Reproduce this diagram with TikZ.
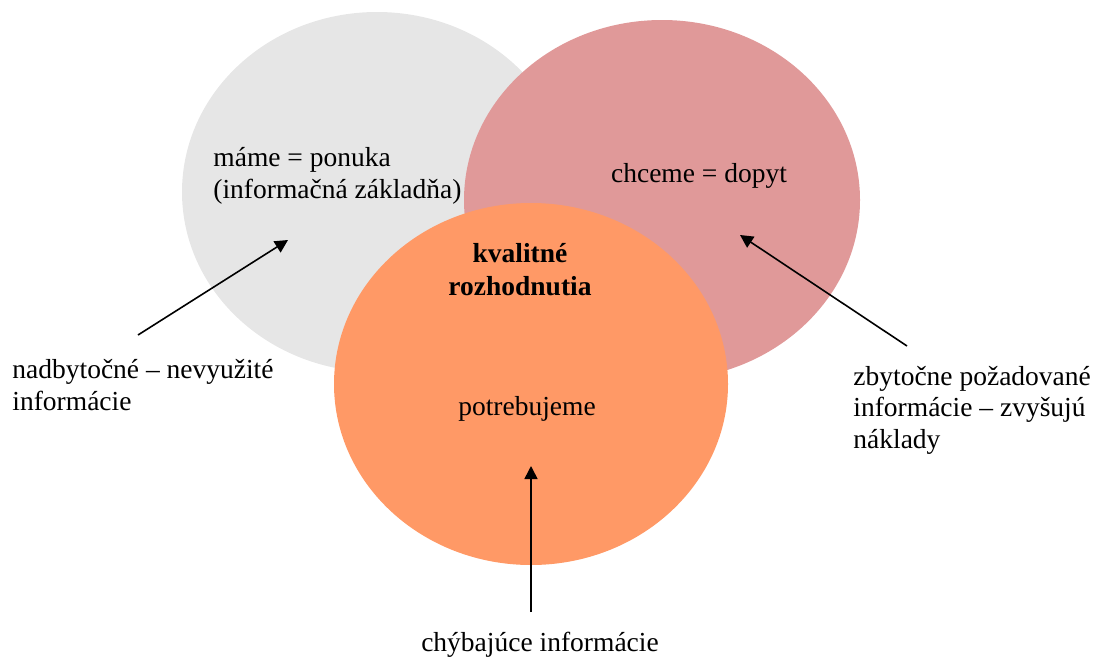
\documentclass[tikz,border=0pt]{standalone}
\usepackage{fontspec}
\setmainfont{Liberation Serif}
\usepackage{tikz}
\usetikzlibrary{calc, shapes, arrows.meta}

\definecolor{ponuka}{RGB}{230,230,230}
\definecolor{dopyt}{RGB}{224,153,153}
\definecolor{potreba}{RGB}{255,153,102}

\begin{document}
\begin{tikzpicture}[x=0.5pt,y=-0.5pt]
\tikzstyle{set}=[ellipse,inner sep=0pt,minimum width=197pt,minimum height=181pt]
\tikzstyle{txt}=[inner sep=0pt,font=\fontsize{13.75}{15.75}\selectfont,align=left,anchor=base west]
\tikzstyle{arr}=[-{Triangle[length=6.5pt,width=6.5pt]},line width=0.8pt]
\useasboundingbox (0,0) rectangle (1101,659);
% the three sets
\node[set,fill=ponuka,minimum width=195pt,minimum height=180pt] (S_m) at (377,192) {};
\node[set,fill=dopyt,minimum width=198pt,minimum height=180pt] (S_ch) at (662,200) {};
\node[set,fill=potreba] (S_p) at (531,384) {};
% texts (base = last line)
\node[txt] (T_m) at (213,198) {máme = ponuka\\(informačná základňa)};
\node[txt,anchor=base] (T_ch) at (699,182) {chceme = dopyt};
\node[txt,anchor=base,align=center,font=\fontsize{13.75}{16.5}\selectfont\bfseries] (T_kr) at (520,295) {kvalitné\\rozhodnutia};
\node[txt,anchor=base] (T_p) at (527,415) {potrebujeme};
\node[txt] (T_n) at (12,410) {nadbytočné – nevyužité\\informácie};
\node[txt] (T_z) at (853,448) {zbytočne požadované\\informácie – zvyšujú\\náklady};
\node[txt,anchor=base] (T_chy) at (540,651) {chýbajúce informácie};
% arrows
\coordinate (A_n) at (138,335); \coordinate (B_n) at (288,240);
\coordinate (A_z) at (907,346); \coordinate (B_z) at (740,235);
\coordinate (A_chy) at (531,612); \coordinate (B_chy) at (531,466);
\draw[arr] (A_n) -- (B_n);
\draw[arr] (A_z) -- (B_z);
\draw[arr] (A_chy) -- (B_chy);
\end{tikzpicture}
\end{document}
